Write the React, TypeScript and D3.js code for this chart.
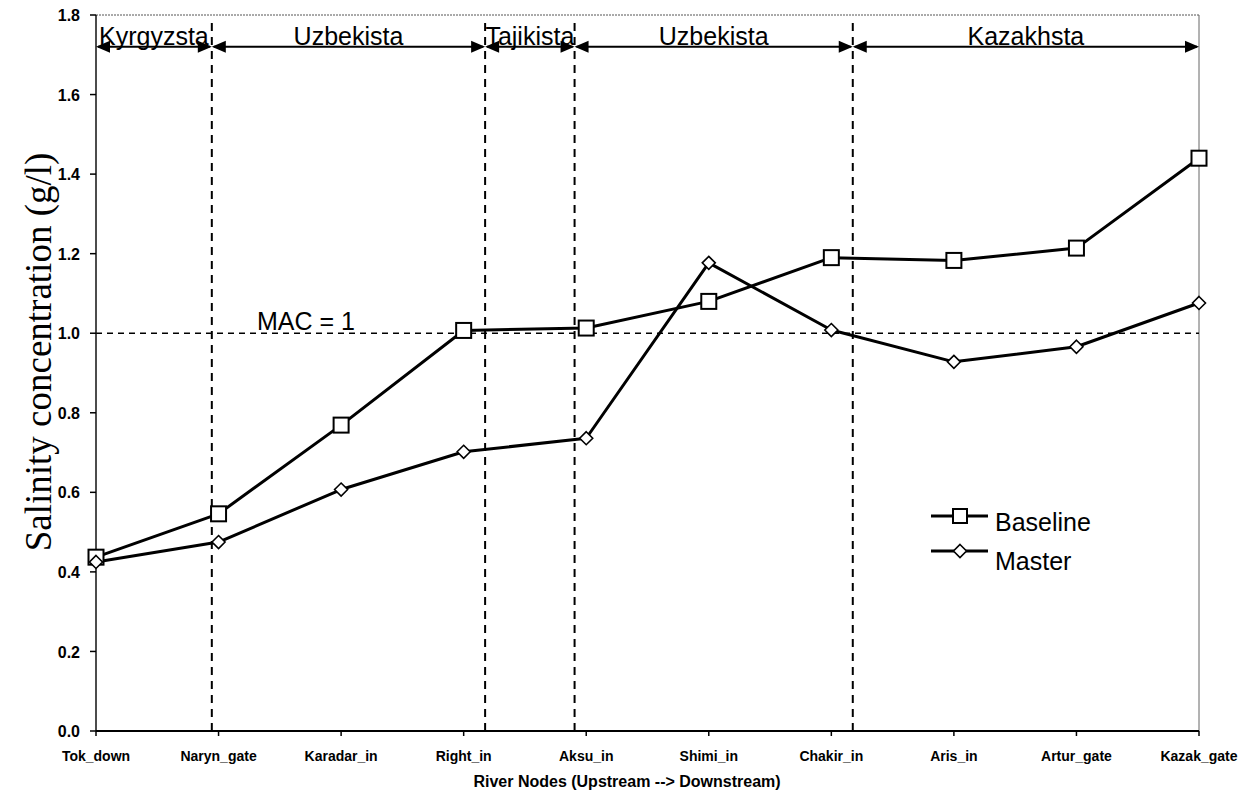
import React from "react";
import * as d3 from "d3";

// River nodes from upstream to downstream
const nodes = [
  "Tok_down",
  "Naryn_gate",
  "Karadar_in",
  "Right_in",
  "Aksu_in",
  "Shimi_in",
  "Chakir_in",
  "Aris_in",
  "Artur_gate",
  "Kazak_gate",
];

// Salinity concentration (g/l) per node
const baseline = [0.437, 0.546, 0.769, 1.007, 1.013, 1.08, 1.19, 1.183, 1.214, 1.44];
const master = [0.425, 0.475, 0.607, 0.702, 0.736, 1.177, 1.008, 0.928, 0.966, 1.076];

const yTicks = [0, 0.2, 0.4, 0.6, 0.8, 1.0, 1.2, 1.4, 1.6, 1.8];

// Maximum allowable concentration
const macValue = 1;

// Country borders along the river, in node-index units
const borders = [0.945, 3.175, 3.905, 6.175];
const countries = ["Kyrgyzsta", "Uzbekista", "Tajikista", "Uzbekista", "Kazakhsta"];
const countryArrowLevel = 1.72;

const W = 1244;
const H = 791;
const left = 96;
const right = 1199;
const top = 15;
const bottom = 731;

const SANS = "'Liberation Sans', Arial, sans-serif";
const SERIF = "'Liberation Serif', 'Times New Roman', serif";

export default function App() {
  const x = d3.scaleLinear().domain([0, nodes.length - 1]).range([left, right]);
  const y = d3.scaleLinear().domain([0, 1.8]).range([bottom, top]);

  const line = d3
    .line<number>()
    .x((_, i) => x(i))
    .y((d) => y(d));

  const edges = [0, ...borders, nodes.length - 1];
  const ay = y(countryArrowLevel);
  const headLen = 14;
  const headHalf = 6;

  const square = 15;
  const diamond = 6.5;

  return (
    <svg
      width={W}
      height={H}
      style={{ position: "absolute", left: 0, top: 0, background: "#fff" }}
      fontFamily={SANS}
    >
      <rect x={0} y={0} width={W} height={H} fill="#fff" />

      {/* plot frame */}
      <line x1={left} x2={right} y1={top} y2={top} stroke="#555" strokeWidth={1} strokeDasharray="2,1" />
      <line x1={right} x2={right} y1={top} y2={bottom} stroke="#666" strokeWidth={1} />

      {/* MAC reference line */}
      <line
        x1={left}
        x2={right}
        y1={y(macValue)}
        y2={y(macValue)}
        stroke="#000"
        strokeWidth={1.6}
        strokeDasharray="6,5"
      />
      <text x={257} y={y(macValue) - 3} fontSize={25} fill="#000">
        MAC = 1
      </text>

      {/* country border dividers */}
      {borders.map((b, i) => (
        <line
          key={i}
          x1={x(b)}
          x2={x(b)}
          y1={y(1.78)}
          y2={bottom}
          stroke="#000"
          strokeWidth={2}
          strokeDasharray="8,6"
        />
      ))}

      {/* axes */}
      <line x1={left} x2={left} y1={top} y2={bottom} stroke="#111" strokeWidth={1.5} />
      <line x1={left} x2={right} y1={bottom} y2={bottom} stroke="#000" strokeWidth={2} />
      {yTicks.map((t) => (
        <g key={t}>
          <line x1={left - 6} x2={left} y1={y(t)} y2={y(t)} stroke="#000" strokeWidth={1.5} />
          <text
            x={80}
            y={y(t)}
            dy="0.38em"
            textAnchor="end"
            fontSize={16}
            fontWeight="bold"
            fill="#000"
          >
            {t.toFixed(1)}
          </text>
        </g>
      ))}
      {nodes.map((n, i) => (
        <g key={n}>
          <line x1={x(i)} x2={x(i)} y1={bottom} y2={bottom + 5} stroke="#000" strokeWidth={1.5} />
          <text x={x(i)} y={761} textAnchor="middle" fontSize={14} fontWeight="bold" fill="#000">
            {n}
          </text>
        </g>
      ))}

      <text x={627} y={787} textAnchor="middle" fontSize={16} fontWeight="bold" fill="#000">
        River Nodes (Upstream --&gt; Downstream)
      </text>
      <text
        transform={`translate(38, 352) rotate(-90)`}
        textAnchor="middle"
        dominantBaseline="central"
        fontSize={37}
        fontFamily={SERIF}
        fill="#000"
      >
        Salinity concentration (g/l)
      </text>

      {/* series lines */}
      <path d={line(baseline) ?? ""} fill="none" stroke="#000" strokeWidth={3} strokeLinejoin="round" />
      <path d={line(master) ?? ""} fill="none" stroke="#000" strokeWidth={3} strokeLinejoin="round" />

      {/* markers */}
      {baseline.map((v, i) => (
        <rect
          key={"b" + i}
          x={x(i) - square / 2}
          y={y(v) - square / 2}
          width={square}
          height={square}
          fill="#fff"
          stroke="#000"
          strokeWidth={2}
        />
      ))}
      {master.map((v, i) => (
        <path
          key={"m" + i}
          d={`M${x(i)},${y(v) - diamond}L${x(i) + diamond},${y(v)}L${x(i)},${y(v) + diamond}L${x(i) - diamond},${y(v)}Z`}
          fill="#fff"
          stroke="#000"
          strokeWidth={1.6}
        />
      ))}

      {/* country spans with double-headed arrows */}
      {countries.map((c, i) => {
        const x0 = x(edges[i]);
        const x1 = x(edges[i + 1]);
        return (
          <g key={i}>
            <line x1={x0 + 2} x2={x1 - 2} y1={ay} y2={ay} stroke="#000" strokeWidth={2} />
            <path
              d={`M${x0},${ay}L${x0 + headLen},${ay - headHalf}L${x0 + headLen},${ay + headHalf}Z`}
              fill="#000"
            />
            <path
              d={`M${x1},${ay}L${x1 - headLen},${ay - headHalf}L${x1 - headLen},${ay + headHalf}Z`}
              fill="#000"
            />
            <text x={(x0 + x1) / 2} y={ay - 2} textAnchor="middle" fontSize={25} fill="#000">
              {c}
            </text>
          </g>
        );
      })}

      {/* legend */}
      {[
        { name: "Baseline", ly: 516, ty: 531, shape: "square" },
        { name: "Master", ly: 551, ty: 570, shape: "diamond" },
      ].map((l) => (
        <g key={l.name}>
          <line x1={931} x2={988} y1={l.ly} y2={l.ly} stroke="#000" strokeWidth={3} />
          {l.shape === "square" ? (
            <rect x={960 - 7} y={l.ly - 7} width={14} height={14} fill="#fff" stroke="#000" strokeWidth={2} />
          ) : (
            <path
              d={`M960,${l.ly - 6.5}L966.5,${l.ly}L960,${l.ly + 6.5}L953.5,${l.ly}Z`}
              fill="#fff"
              stroke="#000"
              strokeWidth={1.6}
            />
          )}
          <text x={995} y={l.ty} fontSize={25} fill="#000">
            {l.name}
          </text>
        </g>
      ))}
    </svg>
  );
}
